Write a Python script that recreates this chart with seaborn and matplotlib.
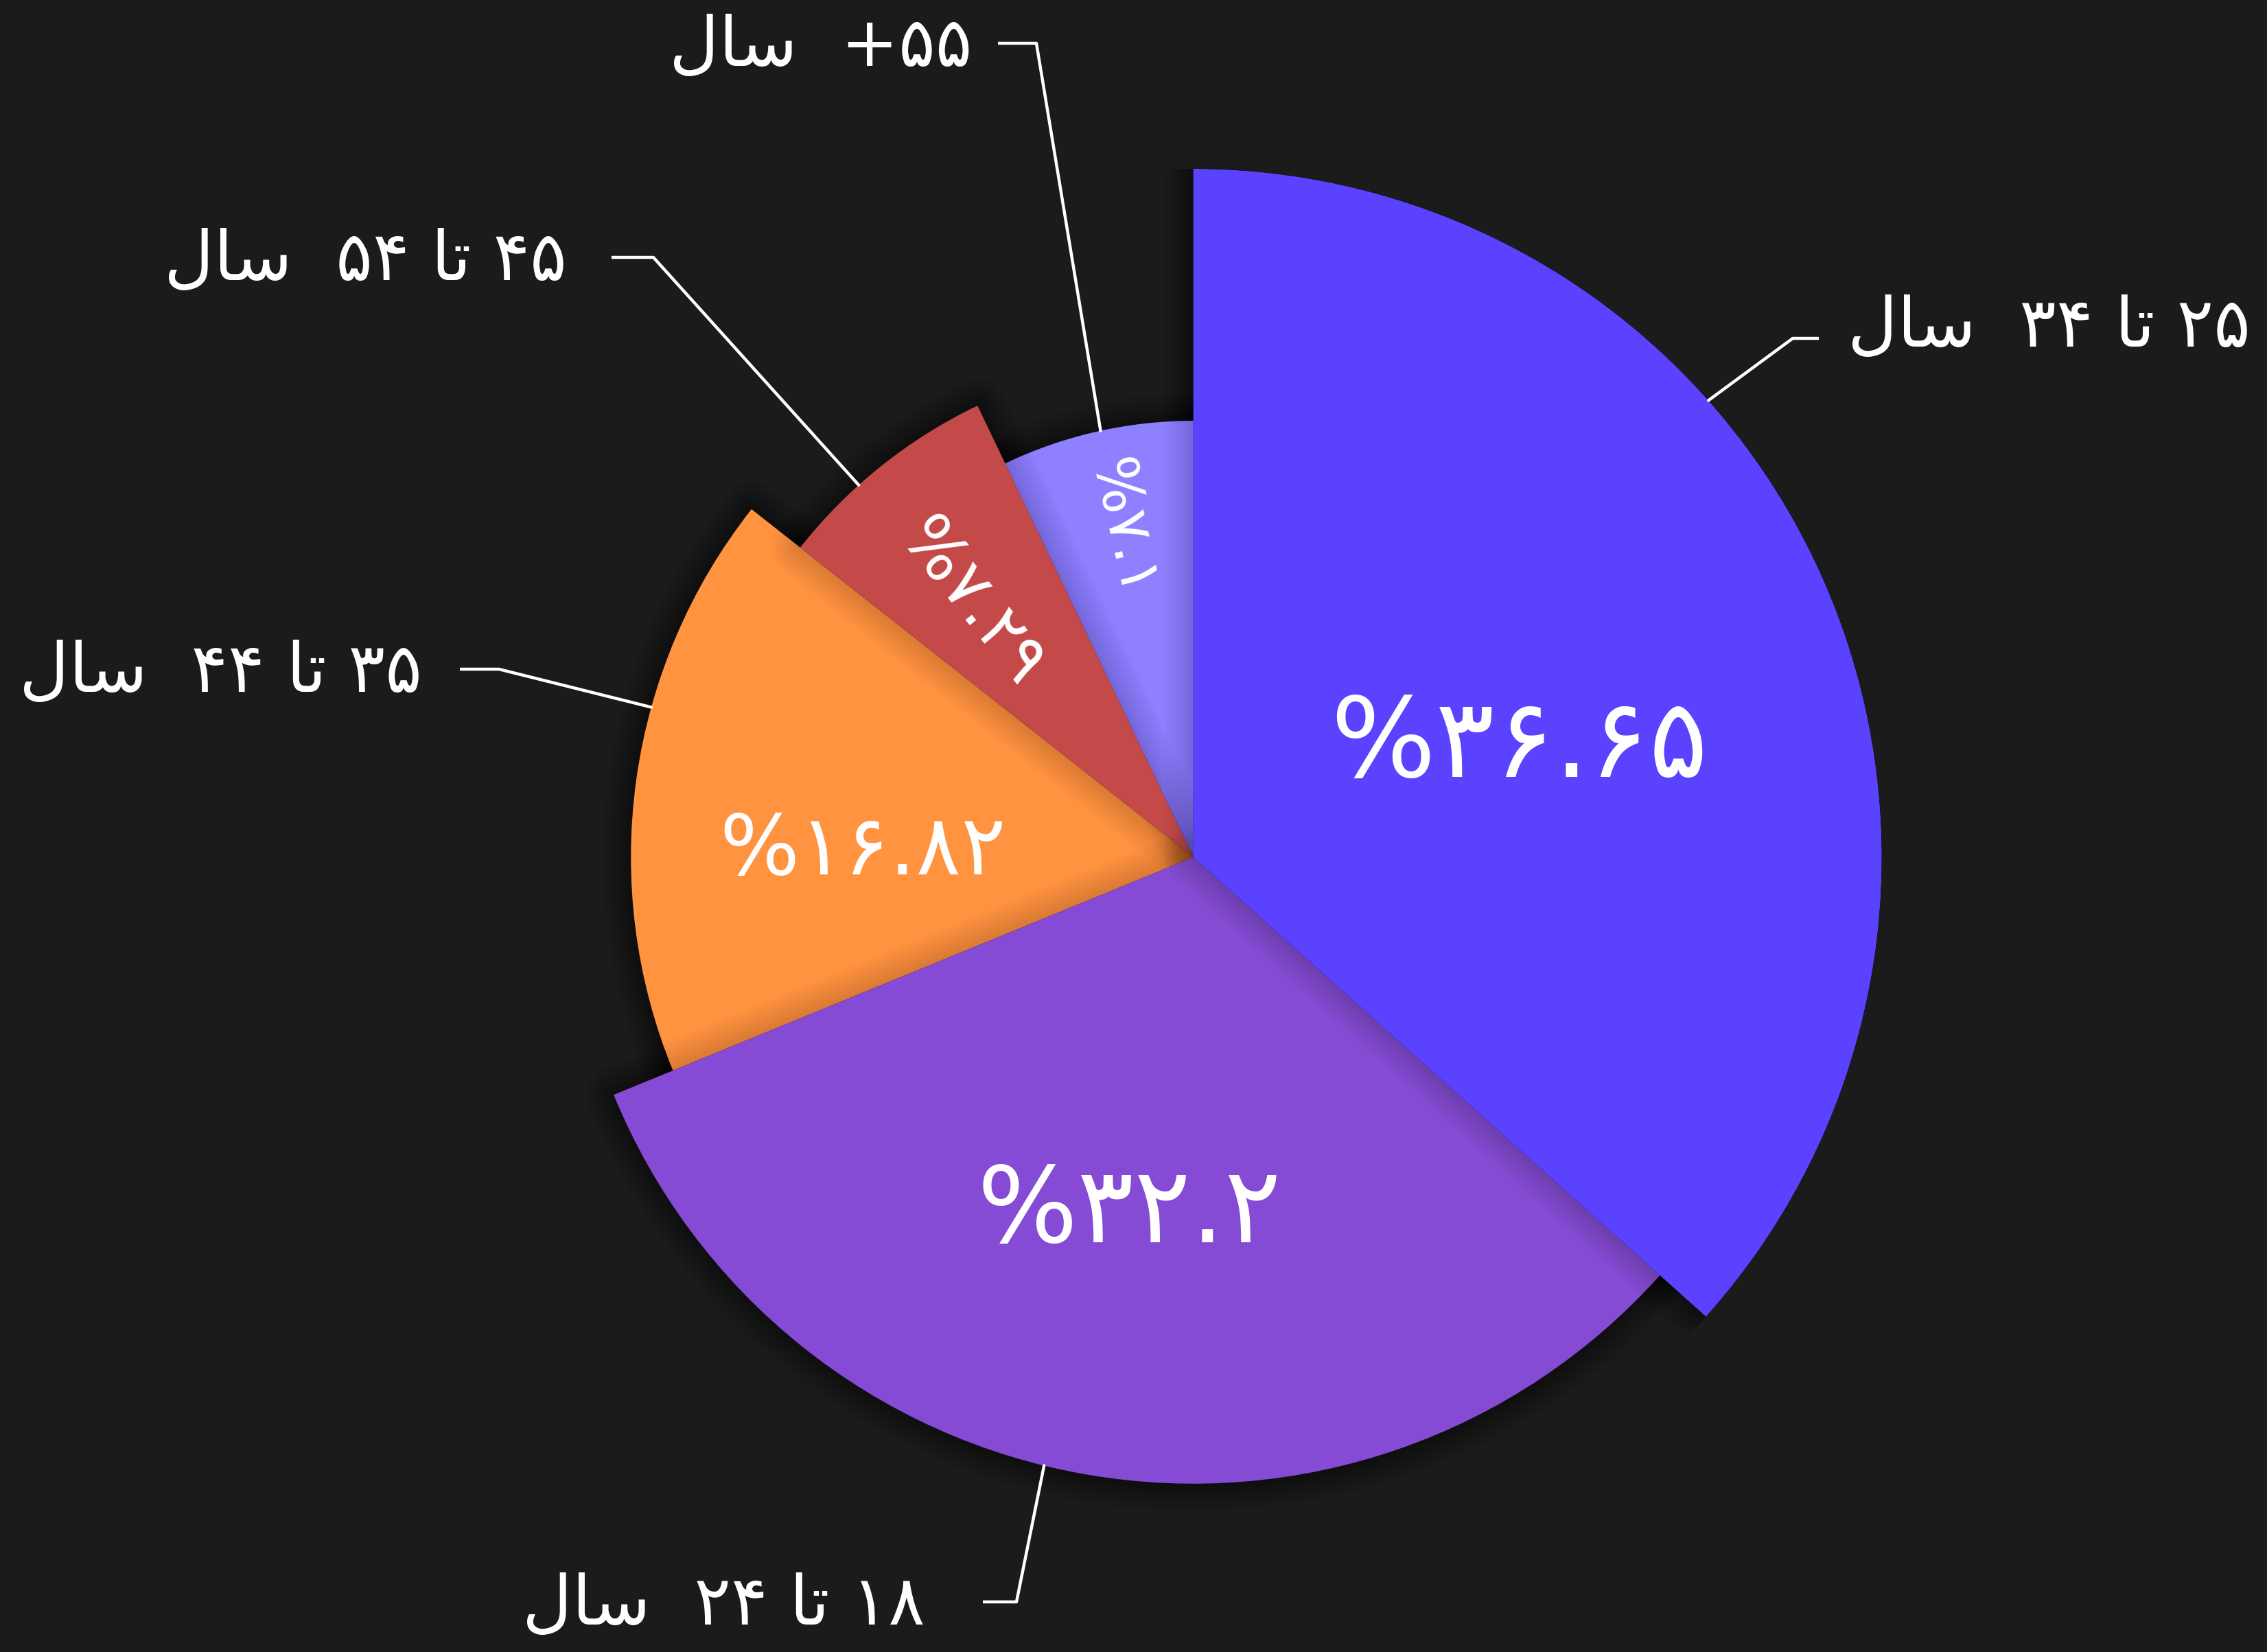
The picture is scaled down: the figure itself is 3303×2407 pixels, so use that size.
import re
import numpy as np
import matplotlib
matplotlib.use('Agg')
import matplotlib.pyplot as plt
import matplotlib.patheffects as pe
from matplotlib.lines import Line2D
import seaborn as sns

sns.set_theme(style='dark')
plt.rcParams['font.family'] = ['DejaVu Sans']

BG = '#1b1b1b'
W, H = 3303, 2407

# slices, clockwise from 12 o'clock
age_groups = ['۲۵ تا ۳۴  سال', '۱۸ تا ۲۴  سال', '۳۵ تا ۴۴  سال', '۴۵ تا ۵۴  سال', '۵۵+  سال']
shares = [36.65, 32.2, 16.82, 7.29, 7.1]
radii = [1.0, 0.91, 0.817, 0.727, 0.634]
colors = ['#5b42ff', '#864bd4', '#ff9340', '#c44a4a', '#8e80ff']

# layout (pixels of the final image, y from top)
draw_order = [2, 4, 3, 1, 0]
pct_size = [116, 111, 88, 70, 62]
pct_r = [0.50, 0.525, 0.48, 0.49, 0.49]
pct_dang = [5.3, 0.4, -7.0, -2.5, 0.5]
line_dang = [-17.5, 4.0, 7.5, -3.3, 0.5]
elbow = [(2612, 493), (1481, 2334), (727, 975), (952, 375), (1510, 63)]
elbow_end = [2650, 1432, 670, 891, 1454]
text_xy = [(2692, 505), (1348, 2367), (615, 1008), (826, 408), (1416, 96)]
text_ha = ['left', 'right', 'right', 'right', 'right']

FA_DIGITS = str.maketrans('0123456789', '۰۱۲۳۴۵۶۷۸۹')
FORMS = {  # isolated, final, initial, medial
    'س': ('\ufeb1', '\ufeb2', '\ufeb3', '\ufeb4'),
    'ت': ('\ufe95', '\ufe96', '\ufe97', '\ufe98'),
    'ل': ('\ufedd', '\ufede', '\ufedf', '\ufee0'),
    'ا': ('\ufe8d', '\ufe8e', None, None),
}
DUAL = {'س', 'ت', 'ل'}


def rtl(s):
    # no text shaping in matplotlib: pick joined forms and lay out right-to-left
    out = []
    for i, c in enumerate(s):
        if c not in FORMS:
            out.append(c)
            continue
        prev = s[i - 1] if i > 0 else ''
        nxt = s[i + 1] if i + 1 < len(s) else ''
        jp = prev in DUAL
        jn = c in DUAL and nxt in FORMS
        iso, fin, ini, med = FORMS[c]
        out.append(med if jp and jn else fin if jp else ini if jn else iso)
    runs = re.findall(r'[۰-۹.]+|.', ''.join(out))
    return ''.join(reversed(runs))


def fig_xy(x, y):
    return x / W, 1 - y / H


fig = plt.figure(figsize=(W / 100, H / 100), dpi=100, facecolor=BG)
cx, cy, R = 1738.7, 1249, 1003
ax = fig.add_axes([(cx - R) / W, (H - cy - R) / H, 2 * R / W, 2 * R / H], projection='polar')
ax.set_theta_zero_location('N')
ax.set_theta_direction(-1)
ax.set_ylim(0, 1)
ax.set_axis_off()

fracs = np.array(shares) / np.sum(shares)
widths = fracs * 2 * np.pi
starts = np.concatenate([[0], np.cumsum(widths)[:-1]])
mids = starts + widths / 2

# soft drop shadow: many thin, faint strokes
shadow = [pe.Stroke(linewidth=w, foreground='black', alpha=0.01, joinstyle='round')
          for w in range(6, 66, 5)]
for z, i in enumerate(draw_order):
    bars = ax.bar(starts[i], radii[i], width=widths[i], bottom=0, align='edge',
                  color=colors[i], linewidth=0, zorder=2 + z)
    bars[0].set_path_effects(shadow + [pe.Normal()])

for i in range(len(shares)):
    cw = np.degrees(mids[i])
    rot = (-90 - cw) % 360 - 360 if shares[i] < 10 else 0
    txt = rtl(str(shares[i]).translate(FA_DIGITS) + '%')
    ax.text(np.radians(cw + pct_dang[i]), pct_r[i], txt, color='white',
            fontsize=pct_size[i], ha='center', va='center', rotation=rot,
            rotation_mode='anchor', zorder=20)

    # leader line: slice edge -> elbow -> short horizontal
    ex, ey = fig_xy(*elbow[i])
    ax.annotate('', xy=(np.radians(cw + line_dang[i]), radii[i]), xycoords='data',
                xytext=(ex, ey), textcoords='figure fraction', annotation_clip=False,
                arrowprops=dict(arrowstyle='-', color='white', lw=3.2,
                                shrinkA=0, shrinkB=0), zorder=15)
    hx, _ = fig_xy(elbow_end[i], 0)
    fig.add_artist(Line2D([ex, hx], [ey, ey], transform=fig.transFigure,
                          color='white', lw=3.2, solid_capstyle='butt'))
    tx, ty = fig_xy(*text_xy[i])
    fig.text(tx, ty, rtl(age_groups[i]), color='white', fontsize=72,
             ha=text_ha[i], va='baseline')

fig.savefig('out.png', dpi=100, facecolor=BG)
